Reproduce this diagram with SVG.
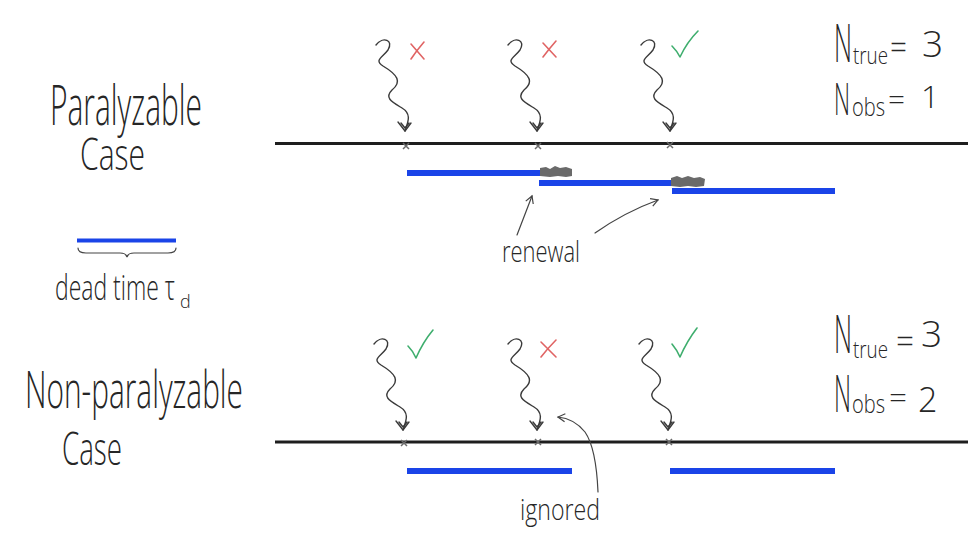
<svg xmlns="http://www.w3.org/2000/svg" xmlns:xlink="http://www.w3.org/1999/xlink" width="972" height="536" viewBox="0 0 972 536">
<style>
.hand{font-family:"Open Sans","DejaVu Sans",sans-serif;font-weight:300;fill:#262626}
.axis{stroke:#1e1e1e;stroke-width:3;fill:none}
.bar{fill:#1a44e8}
.smudge{fill:#6a6a6a}
.wave{stroke:#3a3a3a;stroke-width:1.4;fill:none;stroke-linecap:round;stroke-linejoin:round}
.mark{stroke:#6a6a6a;stroke-width:1.5;fill:none}
.no{stroke:#e06464;stroke-width:1.6;fill:none;stroke-linecap:round}
.yes{stroke:#3fae6e;stroke-width:1.6;fill:none;stroke-linecap:round;stroke-linejoin:round}
.pen{stroke:#444;stroke-width:1.2;fill:none;stroke-linecap:round}
</style>
<defs>
<g id="photon">
<path class="wave" d="M-29,-86 C-22,-95 -11,-91 -17,-81 C-23,-73 -31,-71 -22,-65 C-7,-56 -3,-49 -13,-41 C-21,-33 -13,-29 -3,-23 C7,-17 3,-9 0,0"/>
<path class="wave" d="M-7,-9 L0,0 L6,-8 M-4,-8 L0,-3 L4,-8"/>
</g>
<g id="hit"><path class="mark" d="M-3,-3 L3,3 M3,-3 L-3,3"/></g>
<marker id="ah" markerWidth="10" markerHeight="10" refX="8" refY="5" orient="auto" markerUnits="userSpaceOnUse">
<path d="M1,1 L8,5 L1,9" stroke="#444" stroke-width="1.2" fill="none"/>
</marker>
</defs>
<rect width="972" height="536" fill="#ffffff"/>

<g id="label-paralyzable">
<text class="hand" x="50" y="125" font-size="56" textLength="152" lengthAdjust="spacingAndGlyphs">Paralyzable</text>
<text class="hand" x="80" y="170" font-size="44" textLength="65" lengthAdjust="spacingAndGlyphs">Case</text>
</g>

<g id="legend-deadtime">
<rect class="bar" x="77" y="238.5" width="99" height="4"/>
<path class="pen" d="M78,248 Q78,253 86,253 L120,253 Q126,253 127,257 Q128,253 134,253 L168,253 Q176,253 176,248"/>
<text class="hand" font-size="34"><tspan x="55" y="300" textLength="120" lengthAdjust="spacingAndGlyphs">dead time τ</tspan><tspan x="180" y="308" font-size="18">d</tspan></text>
</g>

<g id="label-nonparalyzable">
<text class="hand" x="25" y="408" font-size="52" textLength="218" lengthAdjust="spacingAndGlyphs">Non-paralyzable</text>
<text class="hand" x="62" y="465" font-size="46" textLength="60" lengthAdjust="spacingAndGlyphs">Case</text>
</g>

<g id="counts-top">
<text class="hand"><tspan x="834" y="62" font-size="54" textLength="18" lengthAdjust="spacingAndGlyphs">N</tspan><tspan x="853" y="64" font-size="24" textLength="35" lengthAdjust="spacingAndGlyphs">true</tspan><tspan x="890" y="59" font-size="34" textLength="17" lengthAdjust="spacingAndGlyphs">=</tspan><tspan x="922" y="57" font-size="37">3</tspan></text>
<text class="hand"><tspan x="834" y="115" font-size="44" textLength="16" lengthAdjust="spacingAndGlyphs">N</tspan><tspan x="852" y="116" font-size="26" textLength="33" lengthAdjust="spacingAndGlyphs">obs</tspan><tspan x="888" y="110" font-size="32" textLength="17" lengthAdjust="spacingAndGlyphs">=</tspan><tspan x="921" y="108" font-size="32">1</tspan></text>
</g>

<g id="counts-bottom">
<text class="hand"><tspan x="834" y="353" font-size="54" textLength="18" lengthAdjust="spacingAndGlyphs">N</tspan><tspan x="853" y="358" font-size="24" textLength="35" lengthAdjust="spacingAndGlyphs">true</tspan><tspan x="896" y="353" font-size="34" textLength="18" lengthAdjust="spacingAndGlyphs">=</tspan><tspan x="921" y="347" font-size="37">3</tspan></text>
<text class="hand"><tspan x="834" y="412" font-size="52" textLength="17" lengthAdjust="spacingAndGlyphs">N</tspan><tspan x="852" y="413" font-size="26" textLength="33" lengthAdjust="spacingAndGlyphs">obs</tspan><tspan x="889" y="408" font-size="32" textLength="18" lengthAdjust="spacingAndGlyphs">=</tspan><tspan x="918" y="412" font-size="34">2</tspan></text>
</g>

<g id="timeline-top">
<line class="axis" x1="275" y1="143.5" x2="968" y2="143.5"/>
<use xlink:href="#hit" x="406" y="146"/>
<use xlink:href="#hit" x="538" y="146"/>
<use xlink:href="#hit" x="670" y="145"/>
</g>

<g id="deadtime-top">
<rect class="bar" x="407" y="170" width="133" height="6"/>
<path class="smudge" d="M540,168 L546,167 L550,169 L555,166 L560,168 L566,167 L572,169 L572,176 L566,177 L558,176 L550,177 L540,176 Z"/>
<rect class="bar" x="539" y="180" width="133" height="6"/>
<path class="smudge" d="M671,178 L677,176 L682,178 L688,176 L694,178 L700,177 L705,179 L704,186 L696,187 L688,186 L680,187 L671,186 Z"/>
<rect class="bar" x="672" y="188" width="163" height="6"/>
</g>

<g id="status-top">
<path class="no" d="M411,44 L424,59 M424,42 Q417,50 411,59"/>
<path class="no" d="M543,43 L556,57 M556,41 Q549,49 543,57"/>
<path class="yes" d="M672,46 Q677,51 680,57 Q687,42 698,31"/>
</g>

<g id="timeline-bottom">
<line class="axis" x1="275" y1="442" x2="968" y2="442"/>
<use xlink:href="#hit" x="404" y="443"/>
<use xlink:href="#hit" x="538" y="442"/>
<use xlink:href="#hit" x="669" y="442"/>
</g>

<g id="deadtime-bottom">
<rect class="bar" x="407" y="468" width="165" height="6"/>
<rect class="bar" x="670" y="468" width="165" height="6"/>
</g>

<g id="status-bottom">
<path class="yes" d="M408,346 Q413,351 416,358 Q423,342 433,330"/>
<path class="no" d="M541,342 L556,357 M556,340 Q548,348 541,357"/>
<path class="yes" d="M672,344 Q677,350 680,357 Q687,341 697,328"/>
</g>

<g id="annotations">
<text class="hand" x="502" y="262" font-size="30" textLength="78" lengthAdjust="spacingAndGlyphs">renewal</text>
<text class="hand" x="520" y="520" font-size="30" textLength="80" lengthAdjust="spacingAndGlyphs">ignored</text>
</g>

<g id="connectors">
<use xlink:href="#photon" x="405" y="131"/>
<use xlink:href="#photon" x="537" y="131"/>
<use xlink:href="#photon" x="670" y="131"/>
<use xlink:href="#photon" x="403" y="430"/>
<use xlink:href="#photon" x="537" y="430"/>
<use xlink:href="#photon" x="668" y="430"/>
<path class="pen" d="M517,235 L532,196" marker-end="url(#ah)"/>
<path class="pen" d="M595,233 Q625,212 658,200" marker-end="url(#ah)"/>
<path class="pen" d="M598,492 C597,468 594,445 585,432 C577,422 568,418 558,417" marker-end="url(#ah)"/>
</g>
</svg>
